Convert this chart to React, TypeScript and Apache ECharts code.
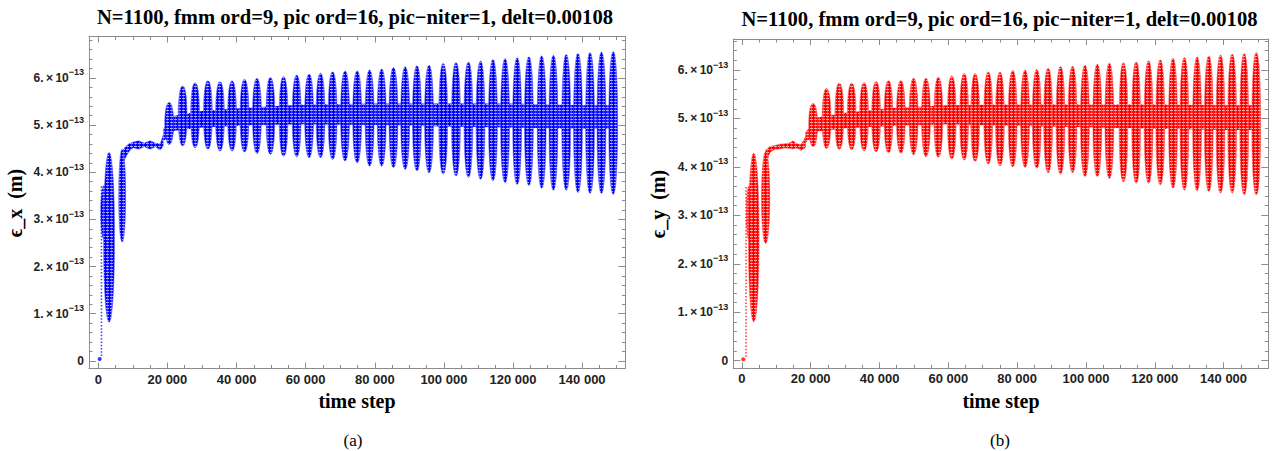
import React, { useEffect, useRef } from "react";
import * as echarts from "echarts";

// ---------- axis ticks ----------
const xTickValues = [0, 20000, 40000, 60000, 80000, 100000, 120000, 140000];
const yTickValues = [0, 1, 2, 3, 4, 5, 6]; // in units of 1e-13 m

// ---------- panel (a): eps_x (values in 1e-13 m) ----------
const exLobeStep = [20500, 24400, 28000, 31700, 35200, 38700, 42300, 45900, 49800, 53600, 57400, 61000, 64300, 67800, 71400, 74900, 78500, 82000, 85400, 88800, 92200, 95700, 99800, 103500, 107100, 110600, 114200, 117700, 121200, 124600, 128300, 131700, 135400, 138800, 142300, 145600, 149000];
const exLobeTop = [5.48, 5.83, 5.9, 5.94, 5.92, 5.94, 5.97, 5.99, 6.01, 6.03, 6.06, 6.08, 6.1, 6.13, 6.15, 6.15, 6.17, 6.19, 6.22, 6.24, 6.26, 6.27, 6.31, 6.33, 6.34, 6.36, 6.39, 6.41, 6.43, 6.45, 6.47, 6.48, 6.5, 6.52, 6.54, 6.55, 6.56];
const exLobeBottom = [4.59, 4.56, 4.52, 4.49, 4.45, 4.45, 4.43, 4.4, 4.38, 4.34, 4.33, 4.31, 4.31, 4.27, 4.24, 4.2, 4.13, 4.13, 4.1, 4.06, 4.03, 3.99, 3.96, 3.92, 3.89, 3.85, 3.82, 3.78, 3.74, 3.72, 3.66, 3.62, 3.62, 3.57, 3.55, 3.55, 3.53];
const exColStart = [700, 1500, 5900];
const exColEnd = [2600, 4700, 7900];
const exColLow = [2.58, 0.82, 2.52];
const exColHigh = [3.72, 4.42, 4.49];
const exSparseStep = [900];
const exSparseLow = [0.1];
const exSparseHigh = [3.74];
const exStartStep = [400];
const exStartValue = [0.04];
const exPlateauStep = [6900, 8000, 9000, 10100, 11600, 13300, 15000, 16500, 17900, 18800];
const exPlateauLow = [4.15, 4.33, 4.45, 4.52, 4.49, 4.54, 4.49, 4.54, 4.47, 4.55];
const exPlateauHigh = [4.45, 4.55, 4.61, 4.64, 4.67, 4.62, 4.67, 4.62, 4.6, 4.8];
const exBandStep = [18800, 22000, 30000, 45000, 60000, 80000, 100000, 120000, 140000, 150000];
const exBandLow = [4.65, 4.88, 4.95, 5.0, 5.02, 5.0, 4.97, 4.95, 4.92, 4.92];
const exBandHigh = [4.92, 5.2, 5.3, 5.38, 5.44, 5.46, 5.46, 5.46, 5.42, 5.42];

// ---------- panel (b): eps_y (values in 1e-13 m) ----------
const eyLobeStep = [20700, 24600, 28300, 31900, 35500, 39000, 42600, 46200, 49900, 53500, 57100, 61000, 64600, 67800, 71600, 75000, 78700, 82300, 85700, 89000, 92600, 96100, 99700, 103300, 106800, 110900, 114600, 118200, 121600, 125300, 128600, 132300, 135700, 139100, 142500, 146000, 149500];
const eyLobeTop = [5.31, 5.62, 5.73, 5.73, 5.74, 5.76, 5.78, 5.78, 5.83, 5.83, 5.85, 5.88, 5.93, 5.93, 5.96, 5.96, 5.99, 6.0, 6.01, 6.04, 6.07, 6.08, 6.1, 6.12, 6.14, 6.15, 6.17, 6.19, 6.21, 6.24, 6.26, 6.27, 6.29, 6.31, 6.33, 6.34, 6.36];
const eyLobeBottom = [4.42, 4.38, 4.36, 4.35, 4.33, 4.31, 4.29, 4.28, 4.25, 4.21, 4.2, 4.16, 4.14, 4.11, 4.06, 4.02, 4.0, 3.99, 3.97, 3.88, 3.85, 3.88, 3.8, 3.8, 3.76, 3.69, 3.66, 3.66, 3.63, 3.56, 3.52, 3.51, 3.49, 3.46, 3.46, 3.42, 3.42];
const eyColStart = [1300, 1900, 5700];
const eyColEnd = [2700, 5000, 8100];
const eyColLow = [2.5, 0.8, 2.42];
const eyColHigh = [3.6, 4.28, 4.31];
const eySparseStep = [1200];
const eySparseLow = [0.08];
const eySparseHigh = [3.59];
const eyStartStep = [400];
const eyStartValue = [0.03];
const eyPlateauStep = [6900, 8200, 9500, 11000, 12500, 14000, 14800, 16000, 17200, 18500];
const eyPlateauLow = [4.05, 4.3, 4.36, 4.37, 4.39, 4.38, 4.37, 4.39, 4.34, 4.4];
const eyPlateauHigh = [4.35, 4.42, 4.44, 4.47, 4.48, 4.5, 4.54, 4.48, 4.46, 4.62];
const eyBandStep = [18500, 22000, 30000, 45000, 60000, 80000, 100000, 120000, 140000, 150000];
const eyBandLow = [4.5, 4.73, 4.8, 4.85, 4.88, 4.85, 4.82, 4.79, 4.76, 4.76];
const eyBandHigh = [4.72, 5.02, 5.12, 5.22, 5.27, 5.29, 5.29, 5.29, 5.27, 5.27];

const TITLE = "N=1100, fmm ord=9, pic ord=16, pic\u2212niter=1, delt=0.00108";
const SERIF = "'Liberation Serif', 'Times New Roman', serif";
const SANS = "'Liberation Sans', Arial, sans-serif";
const FRAME = "#8c8c8c";
const LOBE_HALF_WIDTH = 1280; // time steps (drawing width of a lobe)

const X_MINOR: number[] = [];
for (let v = 5000; v <= 150000; v += 5000) if (v % 20000 !== 0) X_MINOR.push(v);
const Y_MINOR: number[] = [];
for (let i = 1; i <= 34; i++) if (i % 5 !== 0) Y_MINOR.push(Math.round(i * 2) / 10);

function makePattern(dark: string, mid: string, light: string) {
  const c = document.createElement("canvas");
  c.width = 4;
  c.height = 3;
  const g = c.getContext("2d")!;
  g.fillStyle = light;
  g.fillRect(0, 0, 4, 3);
  g.fillStyle = mid;
  g.fillRect(0, 0, 4, 2);
  g.fillStyle = dark;
  g.fillRect(0, 0, 3, 2);
  g.fillRect(1, 2, 1, 1);
  return { image: c.toDataURL(), imageWidth: 4, imageHeight: 3, repeat: "repeat" };
}

function lens(cx: number, cy: number, rx: number, ry: number, n: number) {
  const pts: number[][] = [];
  const N = 40;
  for (let i = 0; i < N; i++) {
    const a = (i / N) * Math.PI * 2;
    const c = Math.cos(a);
    const s = Math.sin(a);
    pts.push([cx + rx * Math.sign(c) * Math.pow(Math.abs(c), 2 / n), cy + ry * Math.sign(s) * Math.pow(Math.abs(s), 2 / n)]);
  }
  return pts;
}

type PanelData = {
  lobeStep: number[]; lobeTop: number[]; lobeBottom: number[];
  colStart: number[]; colEnd: number[]; colLow: number[]; colHigh: number[];
  sparseStep: number[]; sparseLow: number[]; sparseHigh: number[];
  startStep: number[]; startValue: number[];
  plateauStep: number[]; plateauLow: number[]; plateauHigh: number[];
  bandStep: number[]; bandLow: number[]; bandHigh: number[];
};

const panels = [
  {
    grid: { left: 89, top: 36.5, width: 536.3, height: 332 },
    xMin: -2700, xMax: 152500, yMin: -0.163, yMax: 6.88,
    dark: "#0000ff", mid: "#3a3aff", light: "#a8a8ff", stroke: "rgba(90,90,255,0.6)",
    titlePos: [355, 17], yName: "\u03f5_x  (m)", yNamePos: [15, 203], xNamePos: [357, 401],
    caption: "(a)", captionPos: [353, 440],
    data: {
      lobeStep: exLobeStep, lobeTop: exLobeTop, lobeBottom: exLobeBottom,
      colStart: exColStart, colEnd: exColEnd, colLow: exColLow, colHigh: exColHigh,
      sparseStep: exSparseStep, sparseLow: exSparseLow, sparseHigh: exSparseHigh,
      startStep: exStartStep, startValue: exStartValue,
      plateauStep: exPlateauStep, plateauLow: exPlateauLow, plateauHigh: exPlateauHigh,
      bandStep: exBandStep, bandLow: exBandLow, bandHigh: exBandHigh,
    } as PanelData,
  },
  {
    grid: { left: 733.3, top: 39, width: 535, height: 329.3 },
    xMin: -2500, xMax: 153000, yMin: -0.157, yMax: 6.64,
    dark: "#ff0000", mid: "#ff3a3a", light: "#ffa8a8", stroke: "rgba(255,90,90,0.6)",
    titlePos: [999.5, 18.5], yName: "\u03f5_y  (m)", yNamePos: [658, 204], xNamePos: [1001, 401],
    caption: "(b)", captionPos: [1000, 440],
    data: {
      lobeStep: eyLobeStep, lobeTop: eyLobeTop, lobeBottom: eyLobeBottom,
      colStart: eyColStart, colEnd: eyColEnd, colLow: eyColLow, colHigh: eyColHigh,
      sparseStep: eySparseStep, sparseLow: eySparseLow, sparseHigh: eySparseHigh,
      startStep: eyStartStep, startValue: eyStartValue,
      plateauStep: eyPlateauStep, plateauLow: eyPlateauLow, plateauHigh: eyPlateauHigh,
      bandStep: eyBandStep, bandLow: eyBandLow, bandHigh: eyBandHigh,
    } as PanelData,
  },
];

function xLabel(v: number) {
  return v === 0 ? "0" : `${v / 1000} 000`;
}
function yLabel(v: number) {
  return v === 0 ? "0" : `{m|${Math.round(v)}.\u2009\u00d7\u200910}{s|\u221213}`;
}

function buildOption() {
  const xAxis: any[] = [];
  const yAxis: any[] = [];
  const grid: any[] = [];
  const series: any[] = [];
  const graphic: any[] = [];

  panels.forEach((p, gi) => {
    grid.push({ ...p.grid, outerBoundsMode: "none", containLabel: false });
    const tickStyle = { color: FRAME, width: 1 };
    const xb = { type: "value", gridIndex: gi, min: p.xMin, max: p.xMax, splitLine: { show: false } };
    const yb = { type: "value", gridIndex: gi, min: p.yMin, max: p.yMax, splitLine: { show: false } };
    const labelFont = { fontFamily: SANS, fontWeight: "bold", color: "#222" };
    xAxis.push(
      {
        ...xb, position: "bottom",
        axisLine: { show: true, onZero: false, lineStyle: tickStyle },
        axisTick: { show: true, inside: true, length: 6, customValues: xTickValues, lineStyle: tickStyle },
        axisLabel: { show: true, customValues: xTickValues, formatter: xLabel, margin: 4, fontSize: 13, ...labelFont },
      },
      {
        ...xb, position: "top",
        axisLine: { show: true, onZero: false, lineStyle: tickStyle },
        axisTick: { show: true, inside: true, length: 6, customValues: xTickValues, lineStyle: tickStyle },
        axisLabel: { show: false },
      },
      {
        ...xb, position: "bottom",
        axisLine: { show: false, onZero: false },
        axisTick: { show: true, inside: true, length: 3.5, customValues: X_MINOR, lineStyle: tickStyle },
        axisLabel: { show: false },
      },
      {
        ...xb, position: "top",
        axisLine: { show: false, onZero: false },
        axisTick: { show: true, inside: true, length: 3.5, customValues: X_MINOR, lineStyle: tickStyle },
        axisLabel: { show: false },
      }
    );
    yAxis.push(
      {
        ...yb, position: "left",
        axisLine: { show: true, onZero: false, lineStyle: tickStyle },
        axisTick: { show: true, inside: true, length: 7, customValues: yTickValues, lineStyle: tickStyle },
        axisLabel: {
          show: true, customValues: yTickValues, formatter: yLabel, margin: 5, fontSize: 12, lineHeight: 20, ...labelFont,
          rich: {
            m: { fontSize: 12, lineHeight: 20, fontFamily: SANS, fontWeight: "bold", color: "#222" },
            s: { fontSize: 9, lineHeight: 10, verticalAlign: "top", fontFamily: SANS, fontWeight: "bold", color: "#222" },
          },
        },
      },
      {
        ...yb, position: "right",
        axisLine: { show: true, onZero: false, lineStyle: tickStyle },
        axisTick: { show: true, inside: true, length: 7, customValues: yTickValues, lineStyle: tickStyle },
        axisLabel: { show: false },
      },
      {
        ...yb, position: "left",
        axisLine: { show: false, onZero: false },
        axisTick: { show: true, inside: true, length: 3.5, customValues: Y_MINOR, lineStyle: tickStyle },
        axisLabel: { show: false },
      },
      {
        ...yb, position: "right",
        axisLine: { show: false, onZero: false },
        axisTick: { show: true, inside: true, length: 3.5, customValues: Y_MINOR, lineStyle: tickStyle },
        axisLabel: { show: false },
      }
    );

    const ai = gi * 4;
    const pattern = makePattern(p.dark, p.mid, p.light);
    const d = p.data;

    const envelope = (steps: number[], low: number[], high: number[], stroke: string | null) => ({
      type: "custom", xAxisIndex: ai, yAxisIndex: ai, clip: true, silent: true,
      data: steps.map((t, i) => [t, low[i], high[i]]),
      renderItem: (params: any, api: any) => {
        if (params.dataIndex !== 0) return { type: "group", children: [] };
        const top = steps.map((t, i) => api.coord([t, high[i]]));
        const bot = steps.map((t, i) => api.coord([t, low[i]])).reverse();
        return {
          type: "polygon", shape: { points: top.concat(bot) },
          style: stroke ? { fill: pattern, stroke, lineWidth: 0.8 } : { fill: pattern },
        };
      },
    });

    series.push(envelope(d.plateauStep, d.plateauLow, d.plateauHigh, p.stroke));
    series.push(envelope(d.bandStep, d.bandLow, d.bandHigh, null));

    series.push({
      type: "custom", xAxisIndex: ai, yAxisIndex: ai, clip: true, silent: true,
      data: d.lobeStep.map((t, i) => [t, d.lobeBottom[i], d.lobeTop[i]]),
      renderItem: (params: any, api: any) => {
        const t = api.value(0), lo = api.value(1), hi = api.value(2);
        const pt = api.coord([t, hi]);
        const pb = api.coord([t, lo]);
        const hw = api.size([LOBE_HALF_WIDTH, 0])[0];
        return {
          type: "polygon",
          shape: { points: lens(pt[0], (pt[1] + pb[1]) / 2, hw, (pb[1] - pt[1]) / 2, 2.2) },
          style: { fill: pattern, stroke: p.stroke, lineWidth: 0.9 },
        };
      },
    });

    series.push({
      type: "custom", xAxisIndex: ai, yAxisIndex: ai, clip: true, silent: true,
      data: d.colStart.map((t, i) => [t, d.colEnd[i], d.colLow[i], d.colHigh[i]]),
      renderItem: (params: any, api: any) => {
        const p0 = api.coord([api.value(0), api.value(3)]);
        const p1 = api.coord([api.value(1), api.value(2)]);
        return {
          type: "polygon",
          shape: { points: lens((p0[0] + p1[0]) / 2, (p0[1] + p1[1]) / 2, (p1[0] - p0[0]) / 2, (p1[1] - p0[1]) / 2, 2.1) },
          style: { fill: pattern, stroke: p.stroke, lineWidth: 0.9 },
        };
      },
    });

    series.push({
      type: "custom", xAxisIndex: ai, yAxisIndex: ai, clip: true, silent: true,
      data: d.sparseStep.map((t, i) => [t, d.sparseLow[i], d.sparseHigh[i]]),
      renderItem: (params: any, api: any) => {
        const a = api.coord([api.value(0), api.value(1)]);
        const b = api.coord([api.value(0), api.value(2)]);
        return {
          type: "line",
          shape: { x1: a[0], y1: a[1], x2: b[0], y2: b[1] },
          style: { stroke: p.dark, lineWidth: 1.6, lineDash: [1.5, 1.8], opacity: 0.75 },
        };
      },
    });

    series.push({
      type: "scatter", xAxisIndex: ai, yAxisIndex: ai, silent: true,
      symbol: "circle", symbolSize: 4,
      itemStyle: { color: p.dark },
      data: d.startStep.map((t, i) => [t, d.startValue[i]]),
    });

    const txt = (text: string, x: number, y: number, font: string, rotation = 0) => ({
      type: "text", x, y, rotation, silent: true,
      style: { text, font, fill: "#000", align: "center", verticalAlign: "middle", textAlign: "center", textVerticalAlign: "middle" },
    });
    graphic.push(txt(TITLE, p.titlePos[0], p.titlePos[1], `bold 20.6px ${SERIF}`));
    graphic.push(txt("time step", p.xNamePos[0], p.xNamePos[1], `bold 20px ${SERIF}`));
    graphic.push(txt(p.yName, p.yNamePos[0], p.yNamePos[1], `bold 20px ${SERIF}`, Math.PI / 2));
    graphic.push(txt(p.caption, p.captionPos[0], p.captionPos[1], `17px ${SERIF}`));
  });

  return { animation: false, backgroundColor: "#ffffff", grid, xAxis, yAxis, series, graphic };
}

export default function App() {
  const ref = useRef<HTMLDivElement>(null);
  useEffect(() => {
    document.body.style.margin = "0";
    if (!ref.current) return;
    const chart = echarts.init(ref.current, undefined, { renderer: "svg" });
    chart.setOption(buildOption() as any);
    return () => chart.dispose();
  }, []);
  return <div ref={ref} style={{ width: 1281, height: 451 }} />;
}
